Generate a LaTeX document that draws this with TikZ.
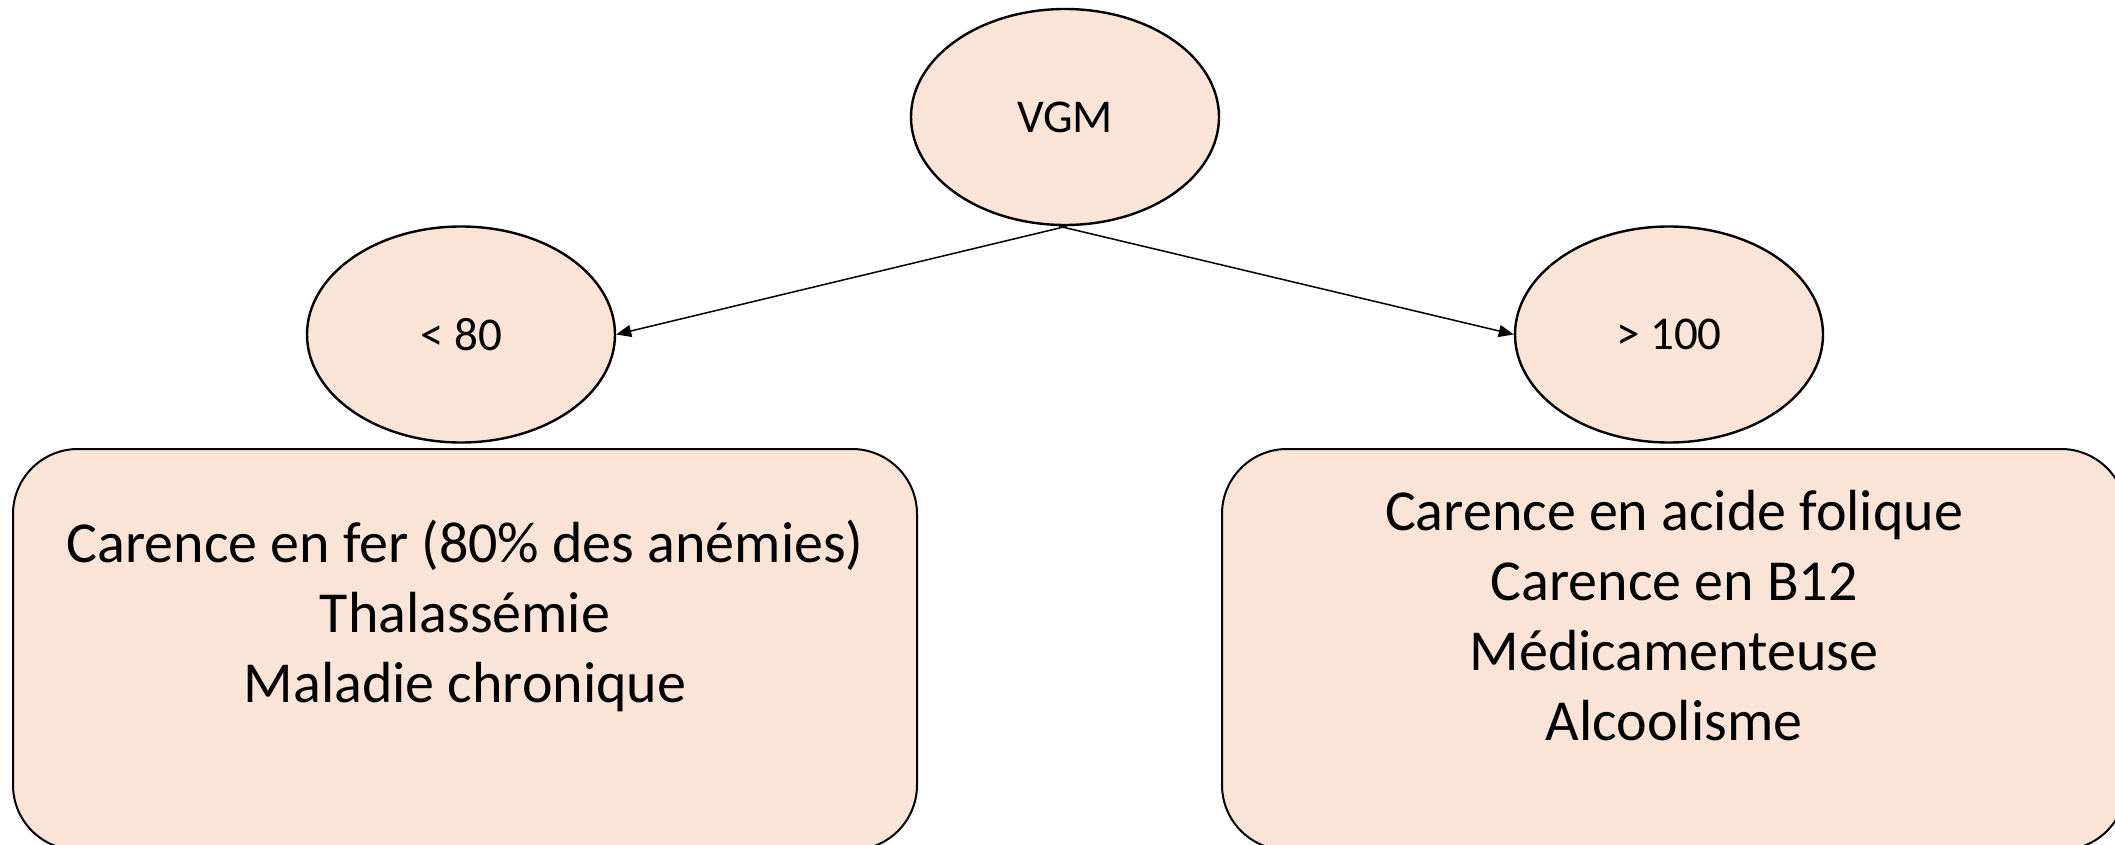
\documentclass[tikz,border=0pt]{standalone}
\usepackage{fontspec}
\setmainfont{Carlito}
\usetikzlibrary{shapes.geometric,arrows.meta}
\definecolor{peach}{HTML}{F9E4D7}
\tikzset{
  oval/.style={ellipse, draw=black, line width=1.2pt, fill=peach,
    minimum width=154pt, minimum height=108pt, inner sep=0pt,
    font=\fontsize{23.5}{28}\selectfont},
  panel/.style={draw=black, line width=1pt, fill=peach, rounded corners=32.5pt,
    minimum width=452pt, minimum height=200.5pt, inner sep=0pt},
  panelText/.style={align=center, inner sep=0pt, font=\fontsize{29}{35}\selectfont},
  link/.style={line width=0.75pt, -{Triangle[length=7.5pt,width=6pt]}}
}
\begin{document}
\begin{tikzpicture}[x=0.5pt, y=-0.5pt]
\useasboundingbox (0,0) rectangle (2115,845);
% root and the two ranges
\node[oval] (vgm) at (1065,117) {VGM};
\node[oval] (lo) at (461,334.5) {< 80};
\node[oval] (hi) at (1669,334.5) {> 100};
% cause panels (their lower edge runs just past the page)
\node[panel] (loBox) at (465,649.5) {};
\node[panel] (hiBox) at (1674,649.5) {};
\node[panelText] (loText) at (465,616) {Carence en fer (80\% des anémies)\\Thalassémie\\Maladie chronique};
\node[panelText] (hiText) at (1674,616) {Carence en acide folique\\Carence en B12\\Médicamenteuse\\Alcoolisme};
% connectors
\draw[link] ([xshift=1pt]vgm.south) -- (lo.east);
\draw[link] ([xshift=-3pt]vgm.south) -- (hi.west);
\end{tikzpicture}
\end{document}
